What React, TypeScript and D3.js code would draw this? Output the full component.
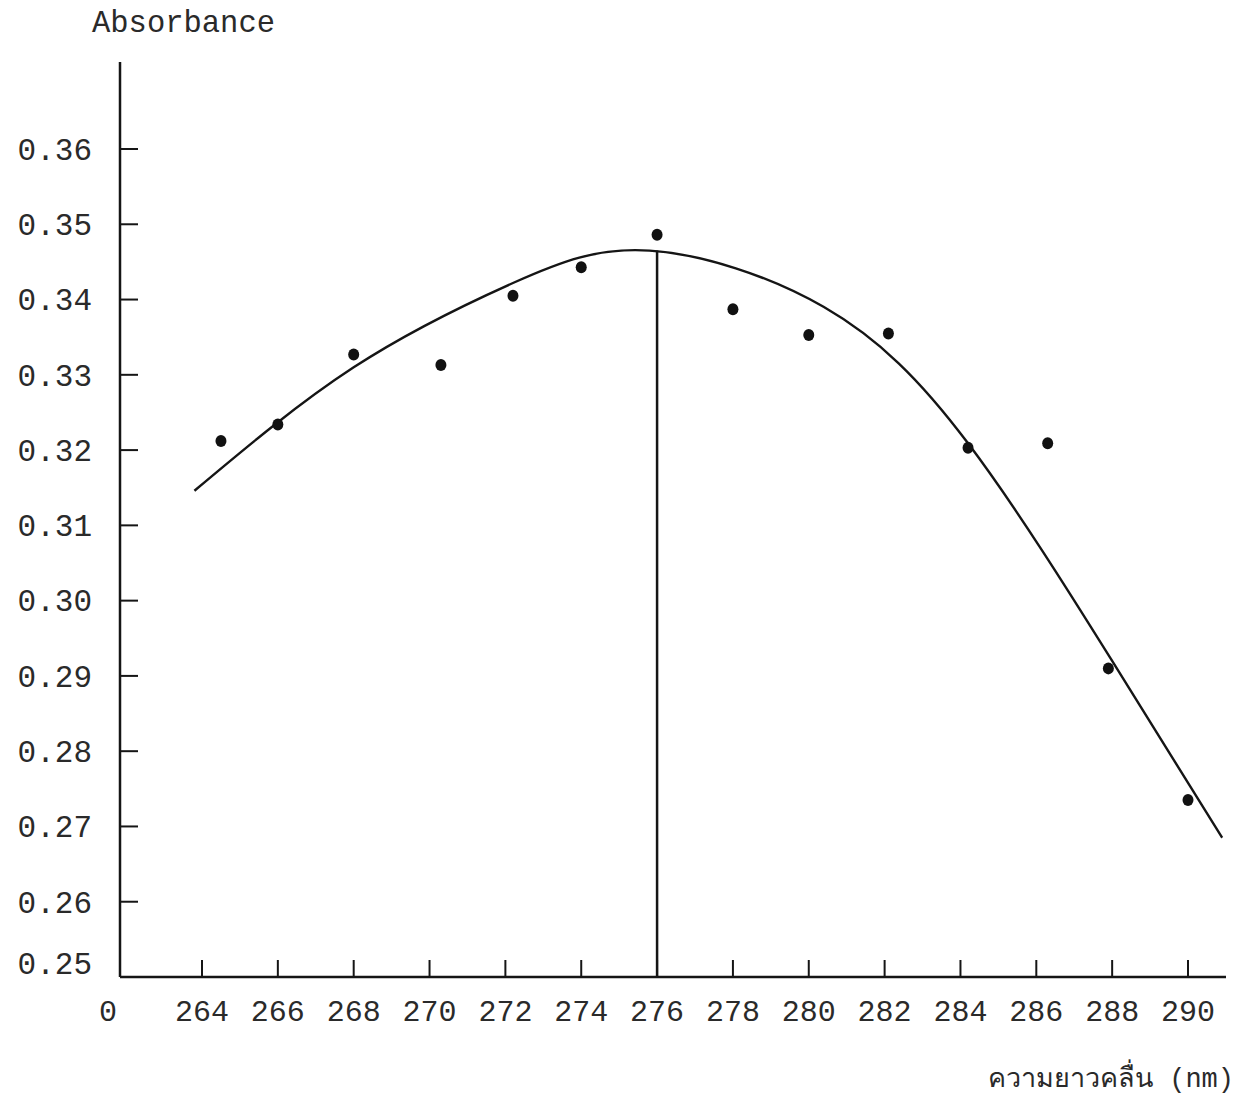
import React, { useEffect, useRef } from 'react';
import * as d3 from 'd3';

// measured points (wavelength nm, absorbance)
const wavelengths = [264.5, 266, 268, 270.3, 272.2, 274, 276, 278, 280, 282.1, 284.2, 286.3, 287.9, 290];
const absorbance = [0.3212, 0.3234, 0.3327, 0.3313, 0.3405, 0.3443, 0.3486, 0.3387, 0.3353, 0.3355, 0.3203, 0.3209, 0.2910, 0.2735];

// hand drawn smooth curve through the points (key points)
const fitWavelengths = [263.8, 268, 272.2, 275.8, 280.4, 284.2, 288, 290.9];
const fitAbsorbance = [0.3146, 0.331, 0.3422, 0.3465, 0.339, 0.3209, 0.292, 0.2685];

const peakWavelength = 276;
const xTicks = [264, 266, 268, 270, 272, 274, 276, 278, 280, 282, 284, 286, 288, 290];
const yTicks = [0.25, 0.26, 0.27, 0.28, 0.29, 0.3, 0.31, 0.32, 0.33, 0.34, 0.35, 0.36];

const App = () => {
  const svgRef = useRef<SVGSVGElement>(null);

  useEffect(() => {
    const width = 1238;
    const height = 1095;
    const ink = '#151515';
    const font = '"Liberation Mono", "DejaVu Sans Mono", monospace';

    const svg = d3.select(svgRef.current)
      .attr('width', width)
      .attr('height', height)
      .style('background', '#fff');

    svg.selectAll('*').remove();

    // scales
    const x = d3.scaleLinear().domain([264, 290]).range([202, 1188]);
    const y = d3.scaleLinear().domain([0.25, 0.36]).range([977, 149]);

    const x0 = x.invert(120);
    const xEnd = x.invert(1226);
    const yTop = y.invert(62);

    // axes lines
    svg.append('line')
      .attr('x1', x(x0)).attr('x2', x(x0))
      .attr('y1', y(yTop)).attr('y2', y(0.25))
      .attr('stroke', ink).attr('stroke-width', 2.5);

    svg.append('line')
      .attr('x1', x(x0)).attr('x2', x(xEnd))
      .attr('y1', y(0.25)).attr('y2', y(0.25))
      .attr('stroke', ink).attr('stroke-width', 2.5);

    // y ticks + labels
    svg.selectAll('.ytick')
      .data(yTicks.filter(d => d > 0.25))
      .enter()
      .append('line')
      .attr('class', 'ytick')
      .attr('x1', x(x0)).attr('x2', x(x0) + 18)
      .attr('y1', d => y(d)).attr('y2', d => y(d))
      .attr('stroke', ink).attr('stroke-width', 2);

    svg.selectAll('.ylabel')
      .data(yTicks)
      .enter()
      .append('text')
      .attr('class', 'ylabel')
      .attr('x', 92)
      .attr('y', d => y(d) - (d === 0.25 ? 14 : 0))
      .attr('dy', '0.35em')
      .attr('text-anchor', 'end')
      .style('font-family', font)
      .style('font-size', '31px')
      .attr('fill', '#2a2a2a')
      .text(d => d.toFixed(2));

    // x ticks + labels
    svg.selectAll('.xtick')
      .data(xTicks)
      .enter()
      .append('line')
      .attr('class', 'xtick')
      .attr('x1', d => x(d)).attr('x2', d => x(d))
      .attr('y1', y(0.25)).attr('y2', y(0.25) - 17)
      .attr('stroke', ink).attr('stroke-width', 2);

    svg.selectAll('.xlabel')
      .data(xTicks)
      .enter()
      .append('text')
      .attr('class', 'xlabel')
      .attr('x', d => x(d))
      .attr('y', y(0.25) + 33)
      .attr('dy', '0.35em')
      .attr('text-anchor', 'middle')
      .style('font-family', font)
      .style('font-size', '30px')
      .attr('fill', '#2a2a2a')
      .text(d => String(d));

    svg.append('text')
      .attr('x', 108)
      .attr('y', y(0.25) + 33)
      .attr('dy', '0.35em')
      .attr('text-anchor', 'middle')
      .style('font-family', font)
      .style('font-size', '30px')
      .attr('fill', '#2a2a2a')
      .text('0');

    // fitted curve
    const line = d3.line<number>()
      .x((d, i) => x(fitWavelengths[i]))
      .y(d => y(d))
      .curve(d3.curveNatural);

    svg.append('path')
      .datum(fitAbsorbance)
      .attr('d', line)
      .attr('fill', 'none')
      .attr('stroke', ink)
      .attr('stroke-width', 2.4);

    // vertical line at the peak
    svg.append('line')
      .attr('x1', x(peakWavelength)).attr('x2', x(peakWavelength))
      .attr('y1', y(fitAbsorbance[3])).attr('y2', y(0.25))
      .attr('stroke', ink).attr('stroke-width', 2.5);

    // points
    svg.selectAll('.dot')
      .data(absorbance)
      .enter()
      .append('ellipse')
      .attr('class', 'dot')
      .attr('cx', (d, i) => x(wavelengths[i]))
      .attr('cy', d => y(d))
      .attr('rx', 5.5)
      .attr('ry', 6)
      .attr('fill', '#111');

    // axis titles
    svg.append('text')
      .attr('x', 92)
      .attr('y', 32)
      .style('font-family', font)
      .style('font-size', '30.5px')
      .attr('fill', '#2a2a2a')
      .text('Absorbance');

    svg.append('text')
      .attr('x', 1234)
      .attr('y', 1087)
      .attr('text-anchor', 'end')
      .style('font-family', font)
      .style('font-size', '27px')
      .attr('fill', '#2a2a2a')
      .text('ความยาวคลื่น (nm)');
  }, []);

  return <svg ref={svgRef} style={{ position: 'absolute', left: 0, top: 0, display: 'block' }}></svg>;
};

export default App;
